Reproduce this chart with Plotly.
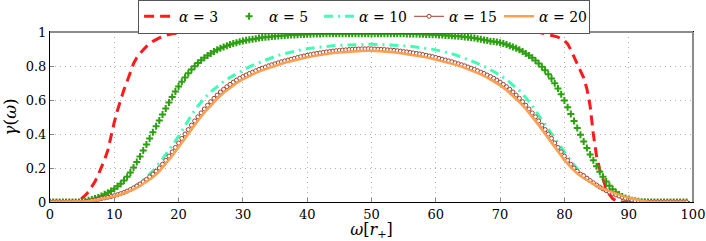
import plotly.graph_objects as go

# ---- data ----
labels = ["α = 3", "α = 5", "α = 10", "α = 15", "α = 20"]

# alpha = 3 (red dashed line)
w3 = [0, 1, 2, 3, 4, 4.5, 5, 5.5, 6, 6.5, 7, 7.5, 8, 8.5, 9, 9.5, 10, 10.5, 11, 11.5,
      12, 12.5, 13, 13.5, 14, 15, 16, 17, 18, 19, 20, 21, 22, 30, 40, 50, 60, 70,
      75, 76, 77, 78, 79, 80, 80.5, 81, 81.5, 82, 82.5, 83, 83.5, 84, 84.5, 85, 85.5,
      86, 86.5, 87, 87.5, 88, 88.5, 90, 95, 99]
g3 = [0, 0, 0, 0, 0, 0.005, 0.02, 0.04, 0.06, 0.09, 0.12, 0.16, 0.2, 0.25, 0.305, 0.39, 0.47, 0.54, 0.605, 0.66,
      0.71, 0.765, 0.815, 0.85, 0.875, 0.915, 0.945, 0.965, 0.98, 0.99, 0.996, 0.999, 1.0, 1.0, 1.0, 1.0, 1.0, 1.0,
      1.0, 0.998, 0.99, 0.98, 0.97, 0.95, 0.93, 0.895, 0.855, 0.815, 0.775, 0.73, 0.665, 0.565, 0.40, 0.27, 0.19,
      0.13, 0.08, 0.045, 0.02, 0.008, 0.0, 0, 0, 0]

# alpha = 5 (green plus markers), omega = 0, 0.5, ..., 99
g5 = [0, 0, 0, 0, 0, 0, 0, 0, 0, 0,
      0.002, 0.005, 0.01, 0.014, 0.02, 0.027, 0.035, 0.045, 0.055, 0.065,
      0.078, 0.092, 0.108, 0.127, 0.148, 0.174, 0.203, 0.235, 0.268, 0.303,
      0.338, 0.374, 0.41, 0.445, 0.48, 0.515, 0.55, 0.585, 0.618, 0.65,
      0.68, 0.708, 0.733, 0.757, 0.779, 0.799, 0.817, 0.834, 0.849, 0.862,
      0.874, 0.885, 0.895, 0.904, 0.912, 0.919, 0.926, 0.932, 0.937, 0.942,
      0.947, 0.951, 0.955, 0.958, 0.961, 0.964, 0.967, 0.969, 0.971, 0.973,
      0.975, 0.977, 0.978, 0.98, 0.981, 0.982, 0.983, 0.984, 0.985, 0.986,
      0.987, 0.987, 0.988, 0.988, 0.988, 0.989, 0.989, 0.989, 0.99, 0.99,
      0.99, 0.99, 0.99, 0.99, 0.99, 0.99, 0.99, 0.99, 0.99, 0.99,
      0.99, 0.99, 0.99, 0.99, 0.99, 0.99, 0.99, 0.99, 0.99, 0.989,
      0.989, 0.988, 0.988, 0.988, 0.988, 0.987, 0.987, 0.986, 0.985, 0.984,
      0.984, 0.983, 0.982, 0.98, 0.979, 0.978, 0.976, 0.975, 0.973, 0.971,
      0.969, 0.966, 0.964, 0.96, 0.957, 0.953, 0.95, 0.946, 0.944, 0.941,
      0.937, 0.932, 0.926, 0.919, 0.912, 0.904, 0.895, 0.885, 0.874, 0.862,
      0.848, 0.832, 0.815, 0.796, 0.775, 0.752, 0.727, 0.699, 0.668, 0.634,
      0.597, 0.558, 0.518, 0.477, 0.436, 0.396, 0.356, 0.317, 0.28, 0.245,
      0.211, 0.178, 0.148, 0.12, 0.096, 0.075, 0.058, 0.044, 0.033, 0.024,
      0.017, 0.011, 0.007, 0.004, 0.002, 0.001,
      0, 0, 0, 0, 0, 0, 0, 0, 0, 0, 0, 0, 0]

# alpha = 10 (cyan dash-dot line), omega = 0, 1, ..., 99
g10 = [0, 0, 0, 0, 0, 0, 0.004, 0.01, 0.017, 0.026,
       0.037, 0.05, 0.066, 0.087, 0.113, 0.145, 0.183, 0.228, 0.278, 0.332,
       0.387, 0.45, 0.51, 0.565, 0.61, 0.648, 0.68, 0.708, 0.733, 0.755,
       0.776, 0.795, 0.812, 0.828, 0.843, 0.856, 0.868, 0.878, 0.887, 0.895,
       0.902, 0.907, 0.912, 0.916, 0.919, 0.922, 0.924, 0.926, 0.927, 0.928,
       0.928, 0.927, 0.926, 0.924, 0.922, 0.919, 0.916, 0.912, 0.907, 0.901,
       0.895, 0.886, 0.877, 0.866, 0.853, 0.839, 0.824, 0.807, 0.789, 0.768,
       0.746, 0.72, 0.69, 0.655, 0.614, 0.566, 0.51, 0.455, 0.4, 0.345,
       0.292, 0.241, 0.196, 0.157, 0.125, 0.098, 0.076, 0.058, 0.043, 0.03,
       0.02, 0.012, 0.006, 0.002, 0, 0, 0, 0, 0, 0]

# alpha = 15 (brown line with open circles), omega = 0, 0.5, ..., 99
g15 = [0, 0, 0, 0, 0, 0, 0, 0, 0, 0,
       0, 0.002, 0.005, 0.008, 0.012, 0.016, 0.02, 0.024, 0.028, 0.032,
       0.037, 0.043, 0.049, 0.056, 0.064, 0.073, 0.083, 0.094, 0.106, 0.119,
       0.133, 0.148, 0.164, 0.181, 0.2, 0.222, 0.245, 0.27, 0.295, 0.321,
       0.347, 0.374, 0.4, 0.426, 0.452, 0.477, 0.501, 0.524, 0.547, 0.569,
       0.59, 0.61, 0.629, 0.647, 0.663, 0.678, 0.692, 0.705, 0.717, 0.728,
       0.738, 0.747, 0.756, 0.764, 0.772, 0.78, 0.787, 0.794, 0.801, 0.807,
       0.813, 0.819, 0.825, 0.83, 0.835, 0.84, 0.845, 0.85, 0.855, 0.859,
       0.863, 0.867, 0.871, 0.874, 0.877, 0.88, 0.883, 0.885, 0.888, 0.89,
       0.892, 0.894, 0.895, 0.897, 0.898, 0.899, 0.9, 0.901, 0.901, 0.902,
       0.901, 0.9, 0.899, 0.898, 0.897, 0.895, 0.894, 0.892, 0.89, 0.888,
       0.885, 0.883, 0.88, 0.877, 0.874, 0.871, 0.867, 0.863, 0.859, 0.855,
       0.85, 0.845, 0.84, 0.835, 0.83, 0.825, 0.819, 0.813, 0.807, 0.801,
       0.794, 0.787, 0.78, 0.772, 0.764, 0.756, 0.747, 0.738, 0.728, 0.717,
       0.705, 0.692, 0.678, 0.663, 0.647, 0.629, 0.61, 0.59, 0.569, 0.547,
       0.524, 0.501, 0.477, 0.452, 0.426, 0.4, 0.374, 0.347, 0.321, 0.295,
       0.27, 0.245, 0.222, 0.2, 0.181, 0.164, 0.155, 0.14, 0.126, 0.113,
       0.1, 0.088, 0.077, 0.067, 0.058, 0.05, 0.042, 0.035, 0.028, 0.022,
       0.017, 0.012, 0.008, 0.005, 0.002, 0.001,
       0, 0, 0, 0, 0, 0, 0, 0, 0, 0, 0, 0, 0]

# alpha = 20 (orange solid line), omega = 0, 1, ..., 99
g20 = [0, 0, 0, 0, 0, 0, 0.004, 0.01, 0.017, 0.025,
       0.033, 0.044, 0.057, 0.074, 0.094, 0.118, 0.146, 0.18, 0.222, 0.27,
       0.322, 0.375, 0.428, 0.478, 0.525, 0.568, 0.607, 0.642, 0.672, 0.699,
       0.722, 0.742, 0.759, 0.775, 0.789, 0.802, 0.813, 0.824, 0.834, 0.843,
       0.851, 0.858, 0.865, 0.871, 0.876, 0.88, 0.883, 0.886, 0.888, 0.889,
       0.889, 0.888, 0.886, 0.882, 0.878, 0.873, 0.868, 0.862, 0.855, 0.847,
       0.838, 0.829, 0.819, 0.808, 0.796, 0.782, 0.767, 0.751, 0.732, 0.711,
       0.686, 0.657, 0.625, 0.588, 0.547, 0.502, 0.452, 0.4, 0.348, 0.296,
       0.246, 0.203, 0.168, 0.14, 0.116, 0.095, 0.077, 0.062, 0.048, 0.036,
       0.025, 0.015, 0.007, 0.002, 0, 0, 0, 0, 0, 0]

w_half = [0.5 * i for i in range(len(g5))]
w_unit = [float(i) for i in range(len(g10))]

x_ticks = [0, 10, 20, 30, 40, 50, 60, 70, 80, 90, 100]
y_ticks = [0, 0.2, 0.4, 0.6, 0.8, 1]
y_ticklabels = ["0", "0.2", "0.4", "0.6", "0.8", "1"]

SERIF = "DejaVu Serif"

fig = go.Figure()
fig.add_trace(go.Scatter(x=w3, y=g3, mode="lines", name="<i>α</i> = 3",
                         line=dict(color="#ff1a1a", width=3, dash="10px,6px")))
fig.add_trace(go.Scatter(x=w_half, y=g5, mode="markers", name="<i>α</i> = 5",
                         marker=dict(symbol="cross-thin", size=5, color="#2ca010",
                                     line=dict(color="#2ca010", width=2))))
fig.add_trace(go.Scatter(x=w_unit, y=g10, mode="lines", name="<i>α</i> = 10",
                         line=dict(color="#40ffb4", width=3, dash="9px,5px,2px,5px")))
fig.add_trace(go.Scatter(x=w_half, y=g15, mode="lines+markers", name="<i>α</i> = 15",
                         line=dict(color="#a0402d", width=1),
                         marker=dict(symbol="circle", size=4, color="white",
                                     line=dict(color="#a0402d", width=1))))
fig.add_trace(go.Scatter(x=w_unit, y=g20, mode="lines", name="<i>α</i> = 20",
                         line=dict(color="#ffa050", width=2.5)))

fig.update_layout(
    width=706, height=241,
    margin=dict(l=50, r=13, t=32, b=39, autoexpand=False),
    paper_bgcolor="white", plot_bgcolor="white",
    font=dict(family=SERIF, size=13, color="black"),
    showlegend=True,
    legend=dict(orientation="h", x=0.137, y=1.19, xanchor="left", yanchor="top",
                bgcolor="white", bordercolor="#555555", borderwidth=1,
                font=dict(family=SERIF, size=14), tracegroupgap=0,
                itemwidth=30, entrywidth=45, entrywidthmode="pixels"),
)
fig.update_xaxes(range=[0, 100], tickvals=x_ticks, ticktext=[str(t) for t in x_ticks],
                 showgrid=True, gridcolor="#b0b0b0", griddash="1px,4px", gridwidth=1,
                 showline=True, linecolor="black", linewidth=1, mirror=True,
                 ticks="inside", ticklen=4, tickcolor="#888888", zeroline=False,
                 tickfont=dict(family=SERIF, size=13),
                 title=dict(text="<i>ω</i>[<i>r</i><sub>+</sub>]", font=dict(family=SERIF, size=16),
                            standoff=5))
fig.update_yaxes(range=[0, 1], tickvals=y_ticks, ticktext=y_ticklabels,
                 showgrid=True, gridcolor="#b0b0b0", griddash="1px,4px", gridwidth=1,
                 showline=True, linecolor="black", linewidth=1, mirror=True,
                 ticks="inside", ticklen=4, tickcolor="#888888", zeroline=False,
                 tickfont=dict(family=SERIF, size=13),
                 title=dict(text="<i>γ</i>(<i>ω</i>)", font=dict(family=SERIF, size=17),
                            standoff=4))
# grey top and right frame lines as in the reference
fig.add_shape(type="line", xref="paper", yref="paper", x0=0, x1=1, y0=1, y1=1,
              line=dict(color="#8c8c8c", width=2), layer="above")
fig.add_shape(type="line", xref="paper", yref="paper", x0=1, x1=1, y0=0, y1=1,
              line=dict(color="#8c8c8c", width=2), layer="above")

fig.write_html("out.html", config={"displayModeBar": False},
               post_script="document.body.style.margin='0';document.body.style.overflow='hidden';")
